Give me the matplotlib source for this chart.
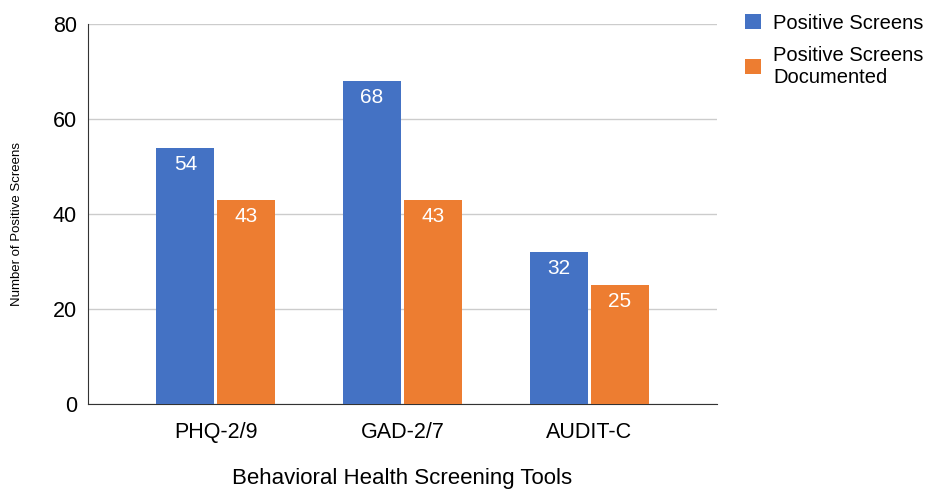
import matplotlib.pyplot as plt
import numpy as np

plt.rcParams['font.family'] = ['Liberation Sans', 'DejaVu Sans']

# Data
tools = ['PHQ-2/9', 'GAD-2/7', 'AUDIT-C']
positive_screens = [54, 68, 32]
documented = [43, 43, 25]

x = np.arange(len(tools))
width = 0.31
offset = 0.163

fig = plt.figure(figsize=(9.25, 4.91), dpi=100)
ax = fig.add_axes([88 / 925, 87 / 491, 629 / 925, 380 / 491])

b1 = ax.bar(x - offset, positive_screens, width, color='#4472C4', label='Positive Screens', zorder=3)
b2 = ax.bar(x + offset, documented, width, color='#ED7D31', label='Positive Screens\nDocumented', zorder=3)

for bars in (b1, b2):
    for rect in bars:
        h = rect.get_height()
        ax.annotate(str(h), (rect.get_x() + rect.get_width() / 2, h),
                    xytext=(0, -12), textcoords='offset points',
                    ha='center', va='center', color='white', fontsize=15)

ax.set_xlim(-0.684, 2.684)
ax.set_ylim(0, 80)
ax.set_yticks([0, 20, 40, 60, 80])
ax.set_xticks(x)
ax.set_xticklabels(tools)
ax.tick_params(axis='x', length=0, labelsize=15.5, pad=13)
ax.tick_params(axis='y', length=0, labelsize=15.5, pad=8)

ax.grid(axis='y', color='#cccccc', linewidth=1, zorder=0)
for s in ['top', 'right']:
    ax.spines[s].set_visible(False)
ax.spines['left'].set_color('#333333')
ax.spines['bottom'].set_color('#333333')

ax.set_xlabel('Behavioral Health Screening Tools', fontsize=16, labelpad=18)
fig.text(17 / 925, 1 - 224 / 491, 'Number of Positive Screens', rotation=90,
         ha='center', va='center', fontsize=9.5)

ax.legend(loc='upper left', bbox_to_anchor=(1.016, 1.075), frameon=False,
          fontsize=14.5, handlelength=0.8, handleheight=0.8, handletextpad=0.6,
          labelspacing=0.65)

plt.savefig('out.png', dpi=100)
